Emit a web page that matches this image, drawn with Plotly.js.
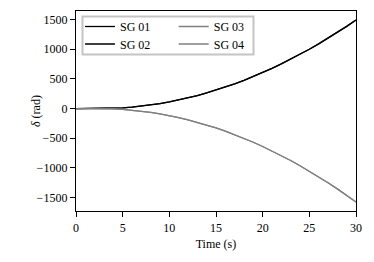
<!DOCTYPE html>
<html>
<head>
<meta charset="utf-8">
<script src="https://cdn.plot.ly/plotly-3.0.1.min.js"></script>
<style>html,body{margin:0;padding:0;background:#fff;}#chart{width:374px;height:262px;}</style>
</head>
<body>
<div id="chart"></div>
<script>
var time = [0,1,2,3,4,5,6,7,8,9,10,11,12,13,14,15,16,17,18,19,20,21,22,23,24,25,26,27,28,29,30];
var sg01 = [0,0,0,1,5,12,25,41,61,84,112,144,179,219,262,310,361,416,475,538,605,676,751,829,912,998,1089,1183,1282,1384,1490];
var sg02 = [0,0,0,1,5,12,25,41,61,84,112,144,179,219,262,310,361,416,475,538,605,676,751,829,912,998,1089,1183,1282,1384,1490];
var sg03 = [0,0,0,-1,-5,-13,-26,-43,-64,-89,-118,-152,-189,-231,-277,-327,-381,-439,-501,-568,-639,-714,-793,-875,-963,-1054,-1150,-1249,-1353,-1461,-1573];
var sg04 = [0,0,0,-1,-5,-13,-26,-43,-64,-89,-118,-152,-189,-231,-277,-327,-381,-439,-501,-568,-639,-714,-793,-875,-963,-1054,-1150,-1249,-1353,-1461,-1573];
var names = ['SG 01','SG 02','SG 03','SG 04'];
var yTicks = [-1500,-1000,-500,0,500,1000,1500];
var xTicks = [0,5,10,15,20,25,30];

var FONT = 'Liberation Serif, Times New Roman, serif';
var FS = 12;
var dark = '#000000', grey = '#808080';
var traces = [
  {x: time, y: sg01, name: names[0], mode: 'lines', line: {color: dark, width: 1.3}, legend: 'legend'},
  {x: time, y: sg02, name: names[1], mode: 'lines', line: {color: dark, width: 1.3}, legend: 'legend2'},
  {x: time, y: sg03, name: names[2], mode: 'lines', line: {color: grey, width: 1.3}, legend: 'legend3'},
  {x: time, y: sg04, name: names[3], mode: 'lines', line: {color: grey, width: 1.3}, legend: 'legend4'}
];
var axisCommon = {
  showgrid: false, zeroline: false, showline: true, mirror: true,
  linecolor: '#000', linewidth: 1.2, ticks: 'outside', ticklen: 5, tickwidth: 1, tickcolor: '#000',
  tickfont: {family: FONT, size: FS, color: '#000'}
};
function leg(x, y) {
  return {x: x, y: y, xanchor: 'left', yanchor: 'top', bgcolor: 'rgba(0,0,0,0)', borderwidth: 0,
          font: {family: FONT, size: FS, color: '#000'}, tracegroupgap: 0, itemwidth: 30};
}
var layout = {
  width: 374, height: 262,
  margin: {l: 76, r: 18, t: 11, b: 51},
  paper_bgcolor: '#fff', plot_bgcolor: '#fff',
  font: {family: FONT, size: FS, color: '#000'},
  showlegend: true,
  xaxis: Object.assign({}, axisCommon, {
    range: [0, 30], tickvals: xTicks, ticktext: xTicks.map(String),
    title: {text: 'Time (s)', font: {family: FONT, size: FS, color: '#000'}, standoff: 6}
  }),
  yaxis: Object.assign({}, axisCommon, {
    range: [-1726, 1643], tickvals: yTicks, ticktext: yTicks.map(function(v){return v < 0 ? '\u2212' + Math.abs(v) : String(v);})
  }),
  legend: leg(0.0143, 0.995),
  legend2: leg(0.0143, 0.9075),
  legend3: leg(0.349, 0.995),
  legend4: leg(0.349, 0.9075),
  annotations: [
    {text: '<i>δ</i> (rad)', xref: 'paper', yref: 'paper', x: -0.143, y: 0.5,
     xanchor: 'center', yanchor: 'middle', textangle: -90, showarrow: false,
     font: {family: FONT, size: FS, color: '#000'}}
  ],
  shapes: [{type: 'rect', xref: 'paper', yref: 'paper', x0: 0.0232, x1: 0.6339, y0: 0.7825, y1: 0.9725,
            line: {color: '#c4c4c4', width: 2}, fillcolor: 'rgba(0,0,0,0)', layer: 'above'}]
};
Plotly.newPlot('chart', traces, layout, {staticPlot: true, displayModeBar: false});
</script>
</body>
</html>
